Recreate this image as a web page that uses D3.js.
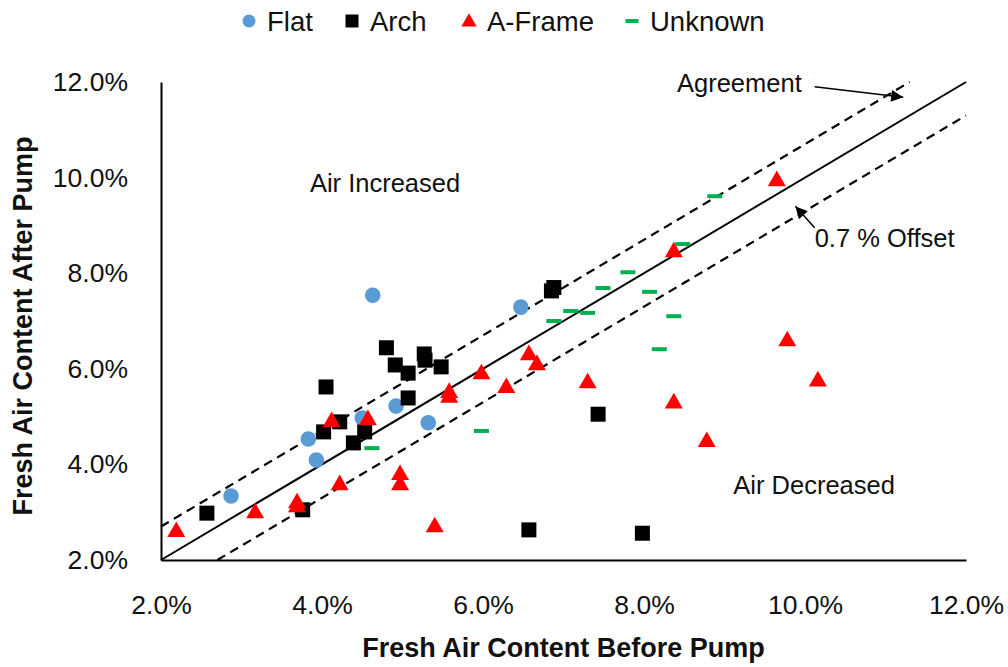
<!DOCTYPE html>
<html>
<head>
<meta charset="utf-8">
<script src="https://cdn.jsdelivr.net/npm/d3@7"></script>
<style>
  body { margin: 0; background: #fff; }
  text { font-family: "Liberation Sans", Arial, sans-serif; fill: #111; }
</style>
</head>
<body>
<script>
'use strict';

// values, in percent: [before, after]
const flat = [[2.87,3.34],[3.83,4.53],[3.93,4.09],[4.50,4.97],[4.63,7.54],[4.92,5.22],[5.32,4.87],[6.47,7.29]];
const arch = [[2.57,2.98],[3.76,3.05],[4.02,4.68],[4.05,5.62],[4.22,4.89],[4.39,4.45],[4.53,4.68],
  [4.80,6.44],[4.91,6.08],[5.07,5.91],[5.07,5.39],[5.27,6.31],[5.28,6.18],[5.48,6.04],
  [6.57,2.63],[6.85,7.63],[6.88,7.70],[7.43,5.05],[7.98,2.56]];
const aFrame = [[2.19,2.59],[3.17,2.98],[3.69,3.19],[3.69,3.11],[4.12,4.89],[4.22,3.57],[4.57,4.93],
  [4.97,3.78],[4.97,3.57],[5.40,2.69],[5.58,5.50],[5.58,5.40],[5.98,5.89],[6.29,5.60],[6.57,6.29],
  [6.67,6.08],[7.30,5.70],[8.37,8.44],[8.37,5.28],[8.78,4.47],[9.65,9.93],[9.78,6.58],[10.16,5.74]];
const unknown = [[4.62,4.34],[5.98,4.70],[6.88,7.00],[7.09,7.21],[7.30,7.17],[7.49,7.69],[7.80,8.02],
  [8.07,7.61],[8.19,6.41],[8.37,7.10],[8.48,8.61],[8.88,9.61]];

const ticks = [2, 4, 6, 8, 10, 12];
const offset = 0.7;
const agreement = [[2, 2], [12, 12]];
const upper = [[2, 2 + offset], [12 - offset, 12]];
const lower = [[2 + offset, 2], [12, 12 - offset]];
const seriesNames = ["Flat", "Arch", "A-Frame", "Unknown"];

const width = 1008, height = 667;

const svg = d3.select('body').append('svg')
  .attr('width', width)
  .attr('height', height);

const x = d3.scaleLinear().domain([2, 12]).range([161, 966]);
const y = d3.scaleLinear().domain([2, 12]).range([560, 82]);
const fmt = d => d.toFixed(1) + '%';

// axes
const xAxis = svg.append('g')
  .attr('transform', 'translate(0,' + y(2) + ')')
  .call(d3.axisBottom(x).tickValues(ticks).tickFormat(fmt).tickSize(0).tickPadding(35));
const yAxis = svg.append('g')
  .attr('transform', 'translate(' + x(2) + ',0)')
  .call(d3.axisLeft(y).tickValues(ticks).tickFormat(fmt).tickSize(0).tickPadding(33));
[xAxis, yAxis].forEach(a => {
  a.select('.domain').attr('stroke', '#000').attr('stroke-width', 2);
  a.selectAll('text').style('font-size', '26.5px').attr('fill', '#111')
    .style('font-family', '"Liberation Sans", Arial, sans-serif');
});

svg.append('text')
  .attr('x', (x(2) + x(12)) / 2)
  .attr('y', 657)
  .attr('text-anchor', 'middle')
  .style('font-size', '27px')
  .style('font-weight', 'bold')
  .text('Fresh Air Content Before Pump');

svg.append('text')
  .attr('transform', 'translate(32,' + 326 + ')rotate(-90)')
  .attr('text-anchor', 'middle')
  .style('font-size', '27px')
  .style('font-weight', 'bold')
  .text('Fresh Air Content After Pump');

// reference lines
const line = d3.line().x(d => x(d[0])).y(d => y(d[1]));
svg.append('path').attr('d', line(agreement))
  .attr('stroke', '#000').attr('stroke-width', 2).attr('fill', 'none');
[upper, lower].forEach(l => {
  svg.append('path').attr('d', line(l))
    .attr('stroke', '#000').attr('stroke-width', 2.2)
    .attr('stroke-dasharray', '9,6').attr('fill', 'none');
});

// markers
const tri = d3.symbol().type(d3.symbolTriangle).size(140);

svg.selectAll('.flat').data(flat).enter().append('circle')
  .attr('cx', d => x(d[0])).attr('cy', d => y(d[1])).attr('r', 7.8)
  .attr('fill', '#5B9BD5');

svg.selectAll('.arch').data(arch).enter().append('rect')
  .attr('x', d => x(d[0]) - 7.5).attr('y', d => y(d[1]) - 7.5)
  .attr('width', 15).attr('height', 15)
  .attr('fill', '#000');

svg.selectAll('.aframe').data(aFrame).enter().append('path')
  .attr('d', tri)
  .attr('transform', d => 'translate(' + x(d[0]) + ',' + y(d[1]) + ')')
  .attr('fill', '#FF0000');

svg.selectAll('.unknown').data(unknown).enter().append('rect')
  .attr('x', d => x(d[0]) - 7.5).attr('y', d => y(d[1]) - 2)
  .attr('width', 15).attr('height', 4)
  .attr('fill', '#00B050');

// annotations
function label(t, xv, yv) {
  svg.append('text')
    .attr('x', x(xv)).attr('y', y(yv))
    .attr('dy', '0.35em')
    .style('font-size', '25.5px')
    .text(t);
}
label('Air Increased', 3.85, 9.89);
label('Air Decreased', 9.11, 3.57);
label('Agreement', 8.41, 11.98);
label('0.7 % Offset', 10.12, 8.74);

svg.append('defs').append('marker')
  .attr('id', 'head')
  .attr('viewBox', '0 0 10 10')
  .attr('refX', 10).attr('refY', 5)
  .attr('markerWidth', 16).attr('markerHeight', 12)
  .attr('markerUnits', 'userSpaceOnUse')
  .attr('orient', 'auto')
  .append('path').attr('d', 'M0,0L10,5L0,10Z').attr('fill', '#000');

function arrow(a, b) {
  svg.append('line')
    .attr('x1', x(a[0])).attr('y1', y(a[1]))
    .attr('x2', x(b[0])).attr('y2', y(b[1]))
    .attr('stroke', '#000').attr('stroke-width', 1.5)
    .attr('marker-end', 'url(#head)');
}
arrow([10.12, 11.90], [11.22, 11.68]);
arrow([10.12, 8.95], [9.88, 9.40]);

// legend
const legend = svg.append('g').attr('transform', 'translate(0,21)');
const legendX = [249, 352, 469, 632];
legend.append('circle').attr('cx', legendX[0]).attr('cy', 0).attr('r', 6.5).attr('fill', '#5B9BD5');
legend.append('rect').attr('x', legendX[1] - 6.5).attr('y', -6.5).attr('width', 13).attr('height', 13).attr('fill', '#000');
legend.append('path').attr('d', d3.symbol().type(d3.symbolTriangle).size(100))
  .attr('transform', 'translate(' + legendX[2] + ',1)').attr('fill', '#FF0000');
legend.append('rect').attr('x', legendX[3] - 6.5).attr('y', -2).attr('width', 13).attr('height', 4).attr('fill', '#00B050');
legend.selectAll('.lt').data(seriesNames).enter().append('text')
  .attr('x', (d, i) => legendX[i] + 18)
  .attr('y', 0)
  .attr('dy', '0.35em')
  .style('font-size', '27.5px')
  .text(d => d);
</script>
</body>
</html>
